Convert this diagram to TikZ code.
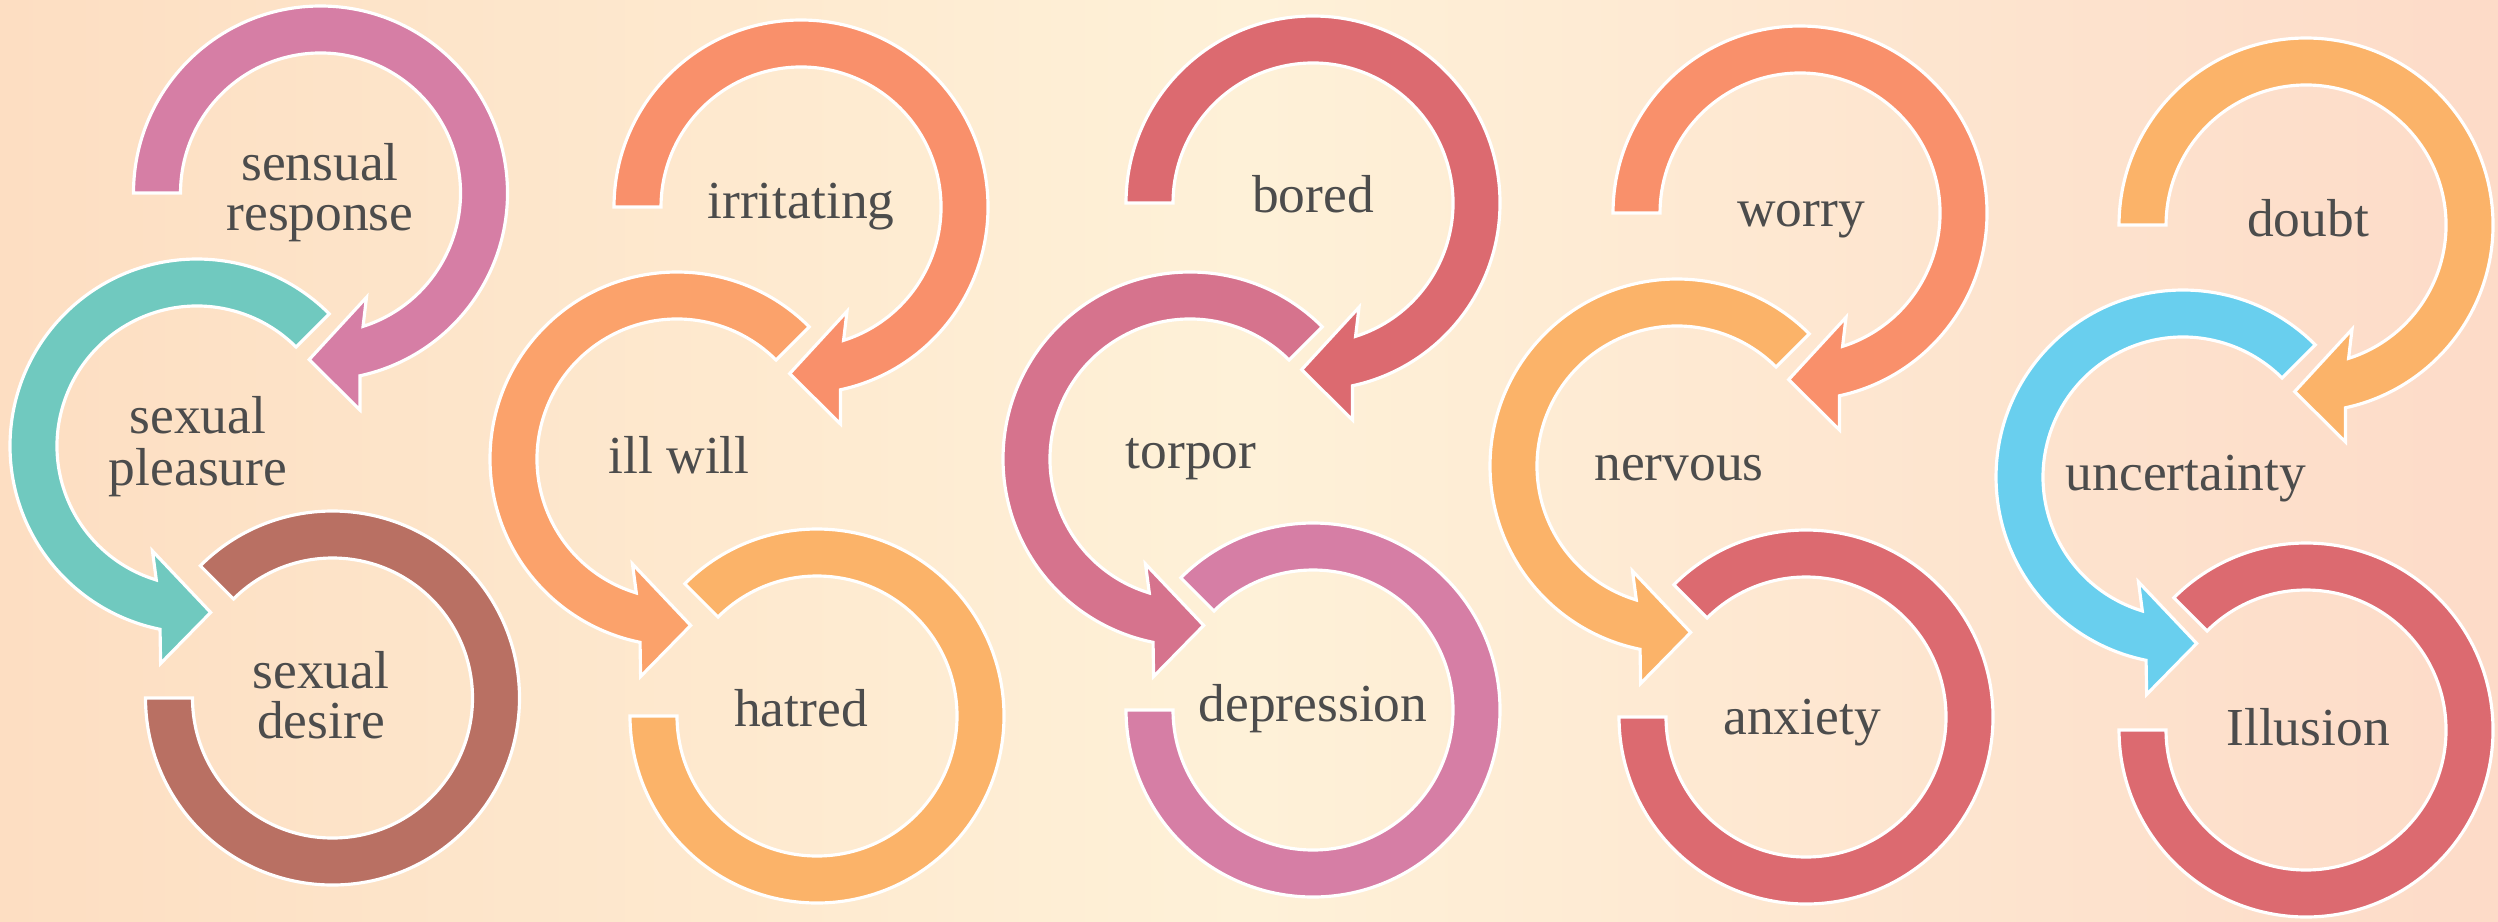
\documentclass[tikz,border=0pt]{standalone}
\usepackage{fontspec}
\setmainfont{Liberation Serif}
\definecolor{bgpeach}{HTML}{FDDEC2}
\definecolor{bgcream}{HTML}{FEF1D8}
\definecolor{bgpeachR}{HTML}{FDDBC8}
\definecolor{txtgray}{HTML}{4C4C4C}
\definecolor{cpink}{HTML}{D67EA5}
\definecolor{cteal}{HTML}{70C9BF}
\definecolor{cbrown}{HTML}{B97063}
\definecolor{csalmon}{HTML}{F9906B}
\definecolor{corange}{HTML}{FBA26B}
\definecolor{clorange}{HTML}{FBB369}
\definecolor{cred}{HTML}{DC6A70}
\definecolor{cmauve}{HTML}{D6738D}
\definecolor{csky}{HTML}{69CFEE}
\tikzset{
  lbl/.style={text=txtgray, font=\fontsize{15.2}{18}\selectfont, inner sep=0pt, anchor=base},
  band/.style={draw=white, line width=0.9pt, line join=miter},
}
% clockwise arrow: x, y, start angle, tip angle, colour
\newcommand\CwArrow[5]{%
  \begin{scope}[shift={(#1,#2)}, yscale=-1]
    \filldraw[band, fill=#5] (#3:187) arc[start angle=#3, end angle={#4+16.1}, radius=187]
      -- ({#4+14.2}:220.5) -- (#4:167) -- ({#4+27.7}:114) -- ({#4+21.6}:140)
      arc[start angle={#4+21.6}, end angle=#3, radius=140] -- cycle;
  \end{scope}}
% counter-clockwise arrow: x, y, start angle, tip angle, colour
\newcommand\CcwArrow[5]{%
  \begin{scope}[shift={(#1,#2)}, yscale=-1]
    \filldraw[band, fill=#5] (#3:187) arc[start angle=#3, end angle={#4-16.1}, radius=187]
      -- ({#4-14.2}:220.5) -- (#4:167) -- ({#4-27.7}:114) -- ({#4-21.6}:140)
      arc[start angle={#4-21.6}, end angle=#3, radius=140] -- cycle;
  \end{scope}}
% open ring without head: x, y, colour
\newcommand\OpenRing[3]{%
  \begin{scope}[shift={(#1,#2)}, yscale=-1]
    \filldraw[band, fill=#3] (135:187) arc[start angle=135, end angle=-180, radius=187]
      -- (-180:140) arc[start angle=-180, end angle=135, radius=140] -- cycle;
  \end{scope}}
\begin{document}
\begin{tikzpicture}[x=0.01cm, y=-0.01cm]
\useasboundingbox (0,0) rectangle (2498,921);
\shade[left color=bgpeach, right color=bgpeachR, middle color=bgcream] (0,0) rectangle (2498,921);

% column 1
\OpenRing{332.5}{698}{cbrown}
\CcwArrow{197}{446}{45}{274.7}{cteal}
\CwArrow{320.5}{193}{180}{-93.9}{cpink}
% column 2
\OpenRing{817}{716}{clorange}
\CcwArrow{677}{459}{45}{274.7}{corange}
\CwArrow{801}{207}{180}{-93.9}{csalmon}
% column 3
\OpenRing{1313}{710}{cpink}
\CcwArrow{1190}{459}{45}{274.7}{cmauve}
\CwArrow{1313}{203}{180}{-93.9}{cred}
% column 4
\OpenRing{1806}{717}{cred}
\CcwArrow{1677}{466}{45}{274.7}{clorange}
\CwArrow{1800}{213}{180}{-93.9}{csalmon}
% column 5
\OpenRing{2306}{730}{cred}
\CcwArrow{2183}{477}{45}{274.7}{csky}
\CwArrow{2306}{225}{180}{-93.9}{clorange}

% labels
\node[lbl] (l1a) at (320,180) {sensual};
\node[lbl] (l1b) at (320,230) {response};
\node[lbl] (l2a) at (198,433) {sexual};
\node[lbl] (l2b) at (198,485) {pleasure};
\node[lbl] (l3a) at (321,688) {sexual};
\node[lbl] (l3b) at (321,738) {desire};
\node[lbl] (l4) at (801,218.5) {irritating};
\node[lbl] (l5) at (679,473) {ill will};
\node[lbl] (l6) at (801,726.5) {hatred};
\node[lbl] (l7) at (1313,212.5) {bored};
\node[lbl] (l8) at (1191,468.5) {torpor};
\node[lbl] (l9) at (1313,721) {depression};
\node[lbl] (l10) at (1801,226) {worry};
\node[lbl] (l11) at (1679,480.5) {nervous};
\node[lbl] (l12) at (1802,734) {anxiety};
\node[lbl] (l13) at (2308,236.5) {doubt};
\node[lbl] (l14) at (2186,490.5) {uncertainty};
\node[lbl] (l15) at (2308,745) {Illusion};
\end{tikzpicture}
\end{document}
